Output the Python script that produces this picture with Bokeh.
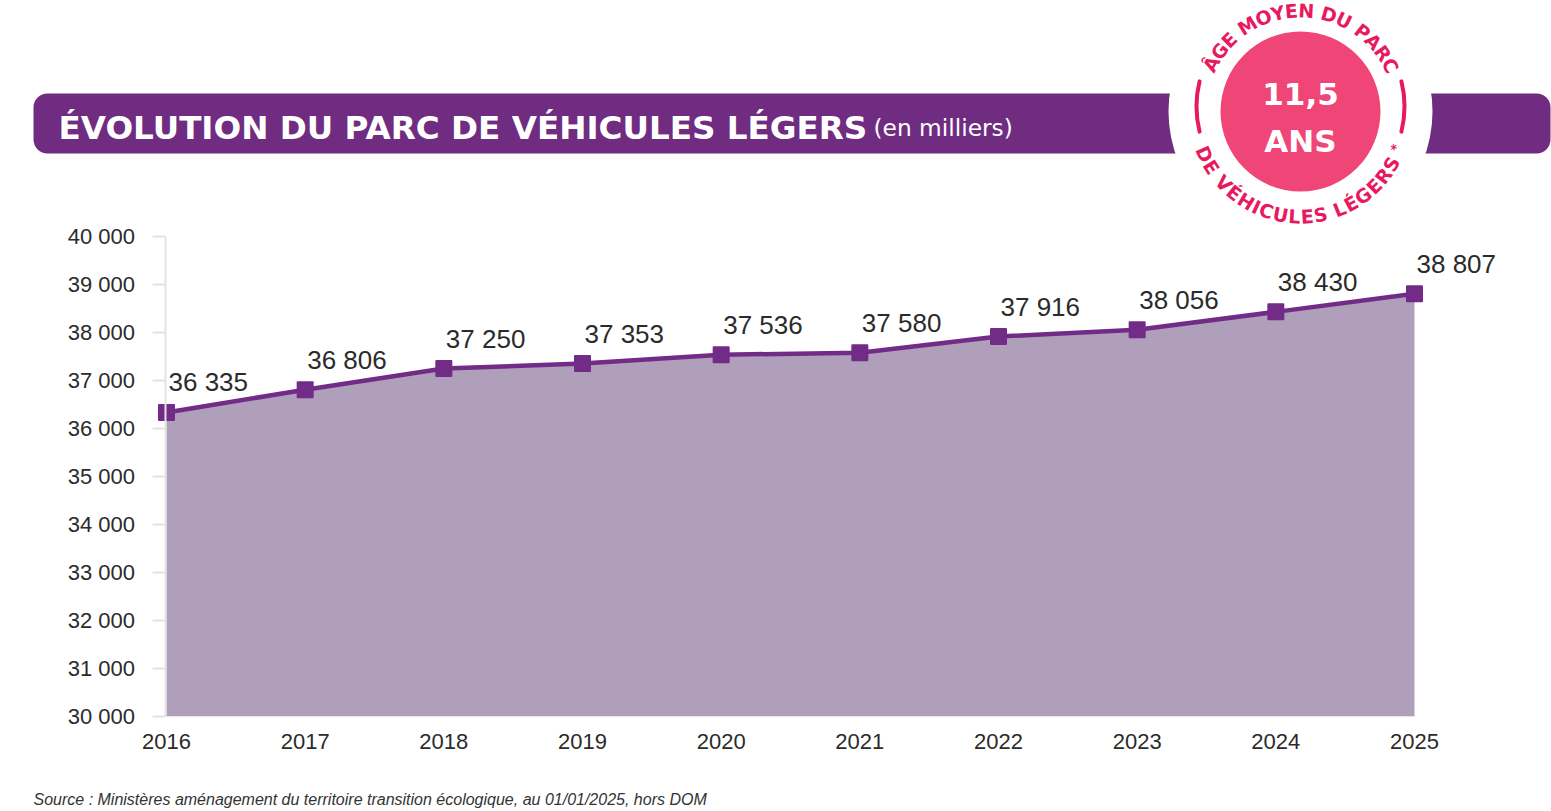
import math
from bokeh.plotting import figure
from bokeh.models import Range1d, FixedTicker, CustomJSTickFormatter
from bokeh.core.properties import value
from bokeh.embed import file_html
from bokeh.resources import INLINE

# ---------------- data ----------------
years = [2016, 2017, 2018, 2019, 2020, 2021, 2022, 2023, 2024, 2025]
parc = [36335, 36806, 37250, 37353, 37536, 37580, 37916, 38056, 38430, 38807]
y_ticks = [30000, 31000, 32000, 33000, 34000, 35000, 36000, 37000, 38000, 39000, 40000]
labels = [f"{v:,}".replace(",", " ") for v in parc]

title_main = "ÉVOLUTION DU PARC DE VÉHICULES LÉGERS"
title_sub = "(en milliers)"
badge_value = "11,5"
badge_unit = "ANS"
badge_top = "ÂGE MOYEN DU PARC"
badge_bottom = "DE VÉHICULES LÉGERS"
source_text = "Source : Ministères aménagement du territoire transition écologique, au 01/01/2025, hors DOM"

PURPLE = "#6F2C80"
LINE = "#722B87"
AREA = "#B09FBA"
PINK = "#EF4677"
PINK_T = "#E8195F"
TXT = "#2B2B2B"
FONT = "Liberation Sans"
BFONT = "DejaVu Sans"

W, H = 1551, 811

# chart scale: years and values placed by the library's own ranges
ppy = (1414 - 166) / 9          # pixels per year
ppv = 48 / 1000                 # pixels per unit
x_start = 2016 - 166 / ppy
y_start = 30000 - (H - 716) / ppv

p = figure(width=W, height=H,
           x_range=Range1d(x_start, x_start + W / ppy),
           y_range=Range1d(y_start, y_start + H / ppv),
           output_backend="svg", toolbar_location=None, min_border=0)
p.grid.visible = False
p.outline_line_color = None
p.extra_x_ranges = {"px": Range1d(0, W)}
p.extra_y_ranges = {"px": Range1d(0, H)}
PX = dict(x_range_name="px", y_range_name="px")


def py(page_y):
    return H - page_y


# ---------------- header ----------------
p.quad(left=[33], right=[1550], bottom=[py(153)], top=[py(93)], border_radius=14,
       fill_color=PURPLE, line_color=None, **PX)
p.text(x=[58], y=[py(127)], text=[title_main], text_font=value(BFONT), text_font_style="bold",
       text_font_size="32.6px", text_color="white", text_baseline="alphabetic", **PX)
p.text(x=[873], y=[py(127)], text=[title_sub], text_font=value(BFONT),
       text_font_size="23.3px", text_color="white", text_baseline="alphabetic", **PX)

cx, cy = 1300, py(111)
p.circle(x=[cx], y=[cy], radius=132, fill_color="white", line_color=None, **PX)
p.circle(x=[cx], y=[cy], radius=80, fill_color=PINK, line_color=None, **PX)
a = math.radians(14)
p.arc(x=[cx, cx], y=[cy + 5, cy + 5], radius=104, start_angle=[-a, math.pi - a],
      end_angle=[a, math.pi + a], line_color=PINK_T, line_width=4, line_cap="round", **PX)
p.text(x=[cx], y=[cy + 18], text=[badge_value], text_font=value(BFONT), text_font_style="bold",
       text_font_size="31px", text_color="white", text_align="center", text_baseline="middle", **PX)
p.text(x=[cx], y=[cy - 29], text=[badge_unit], text_font=value(BFONT), text_font_style="bold",
       text_font_size="31px", text_color="white", text_align="center", text_baseline="middle", **PX)

CW = {'A': .77, 'Â': .77, 'C': .73, 'D': .83, 'E': .68, 'É': .68, 'G': .82, 'H': .84, 'I': .37,
      'L': .64, 'M': .99, 'N': .84, 'O': .85, 'P': .73, 'R': .77, 'S': .72, 'U': .81, 'V': .77,
      'Y': .72, ' ': .35}


def arc_text(s, a0, a1, r, top):
    w = [CW.get(c, .7) for c in s]
    cen = []
    acc = 0
    for wi in w:
        cen.append(acc + wi / 2)
        acc += wi
    xs, ys, ang, ch = [], [], [], []
    for c, sc in zip(s, cen):
        if c == " ":
            continue
        t = (sc - cen[0]) / (cen[-1] - cen[0])
        th = math.radians(a0 + (a1 - a0) * t)
        xs.append(cx + r * math.cos(th))
        ys.append(cy + r * math.sin(th))
        ang.append(th - math.pi / 2 if top else th + math.pi / 2)
        ch.append(c)
    return xs, ys, ang, ch


xs, ys, ang, ch = arc_text(badge_top, 152, 27, 101, True)
p.text(x=xs, y=ys, text=ch, angle=ang, text_font=value(BFONT), text_font_style="bold",
       text_font_size="19px", text_color=PINK_T, text_align="center", text_baseline="middle", **PX)
xs, ys, ang, ch = arc_text(badge_bottom, 204, 330, 105, False)
p.text(x=xs, y=ys, text=ch, angle=ang, text_font=value(BFONT), text_font_style="bold",
       text_font_size="19px", text_color=PINK_T, text_align="center", text_baseline="middle", **PX)
ts = math.radians(339)
p.text(x=[cx + 102 * math.cos(ts)], y=[cy + 102 * math.sin(ts)], text=["*"],
       angle=[ts + math.pi / 2], text_font=value(BFONT), text_font_style="bold",
       text_font_size="13px", text_color=PINK_T, text_align="center", text_baseline="middle", **PX)

# ---------------- footer ----------------
p.text(x=[33], y=[py(799)], text=[source_text], text_font=value(FONT), text_font_style="italic",
       text_font_size="16px", text_color="#333333", text_baseline="middle", **PX)

# ---------------- chart ----------------
p.varea(x=years, y1=[y_ticks[0]] * len(years), y2=parc, fill_color=AREA)
p.line(x=years, y=parc, line_color=LINE, line_width=4.5)
p.scatter(x=years, y=parc, marker="square", size=15, fill_color=LINE, line_color=LINE,
          line_width=2, line_join="round")
p.text(x=years, y=parc, text=labels, x_offset=2, y_offset=-30, text_font=value(FONT),
       text_font_size="26px", text_color=TXT, text_align="left", text_baseline="middle")

ya = p.yaxis[0]
ya.fixed_location = years[0] - 1.5 / ppy
ya.bounds = (y_ticks[0], y_ticks[-1])
ya.ticker = FixedTicker(ticks=y_ticks)
ya.formatter = CustomJSTickFormatter(code="""
const s = Math.round(tick).toString();
return s.slice(0, -3) + ' ' + s.slice(-3);
""")
ya.axis_line_color = "#E3E3E3"
ya.axis_line_width = 2
ya.major_tick_line_color = "#E3E3E3"
ya.major_tick_line_width = 2
ya.major_tick_out = 13
ya.major_tick_in = 0
ya.minor_tick_line_color = None
ya.major_label_standoff = 17
ya.major_label_text_font = FONT
ya.major_label_text_font_size = "22px"
ya.major_label_text_color = TXT

xa = p.xaxis[0]
xa.fixed_location = y_ticks[0]
xa.bounds = (years[0], years[-1])
xa.ticker = FixedTicker(ticks=years)
xa.axis_line_color = "#E6E6E6"
xa.axis_line_width = 1
xa.major_tick_line_color = None
xa.minor_tick_line_color = None
xa.major_label_standoff = 11
xa.major_label_text_font = FONT
xa.major_label_text_font_size = "22px"
xa.major_label_text_color = TXT

open("out.html", "w").write(file_html(p, INLINE))
